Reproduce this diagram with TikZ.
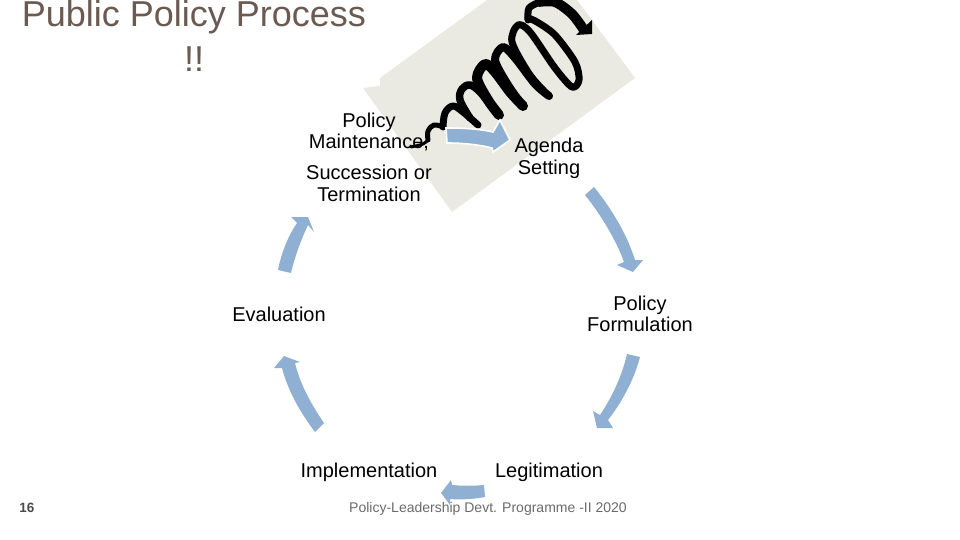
\documentclass[tikz,border=0pt]{standalone}
\usepackage{fontspec}
\setmainfont{Liberation Sans}
\definecolor{paper}{HTML}{EAEAE2}
\definecolor{flow}{HTML}{8FB0D2}
\definecolor{titlec}{HTML}{6B5A52}
\definecolor{footc}{HTML}{6A6A6A}
\tikzset{
 label/.style={font=\fontsize{20}{22}\selectfont,align=center,inner sep=0pt,text=black},
 flowarrow/.style={fill=flow,draw=none},
 coil/.style={draw=black,line cap=round,line join=round}
}
\begin{document}
\begin{tikzpicture}[x=1pt,y=-1pt]
\useasboundingbox (0,0) rectangle (960,540);
\begin{scope}
\clip (0,0) rectangle (960,540);
\fill[paper] (363,88) -- (380,86) -- (380,78) -- (487,0) -- (577,0) -- (635,78) -- (452,212) -- cycle;
% coil
\draw[coil,line width=3pt] plot[smooth,tension=0.6] coordinates {(411,147)(423,144)(428,140)};
\draw[coil,line width=5pt] plot[smooth,tension=0.6] coordinates {(428,140)(428,131)(434,125)(443,127)};
\draw[coil,line width=7pt] plot[smooth,tension=0.6] coordinates {(443,127)(445,113)(453,106)(463,112)(478,125)};
\draw[coil,line width=7.5pt] plot[smooth,tension=0.6] coordinates {(470,118)(460,100)(462,89)(470,85)(480,92)(491,106)(499,115)};
\draw[coil,line width=10pt] plot[smooth,tension=0.5] coordinates {(499,115)(488,100)(477,78)(485,64)(495,72)(510,92)(523,106)};
\draw[coil,line width=8pt] plot[smooth,tension=0.5] coordinates {(523,106)(508,85)(495,60)(503,47)(515,58)(535,84)(549,96)};
\draw[coil,line width=7pt] plot[smooth,tension=0.5] coordinates {(549,96)(530,75)(512,42)(518,25)(530,32)(555,68)(572,87)(579,80)(575,62)(555,35)(537,22)(528,18)};
\draw[coil,line width=7pt] plot[smooth,tension=0.5] coordinates {(528,20)(529,8)(540,2)};
\draw[coil,line width=10pt,line cap=butt] plot[smooth,tension=0.5] coordinates {(538,2)(555,2)(572,14)(584,30)};
\fill[black] (592,20) -- (576,35) -- (592,34) -- cycle;
\end{scope}
% blue arrows
\fill[flow,draw=white,line width=1.6pt,line join=miter] (446,128) .. controls (465,128) and (480,129) .. (493,132) -- (500,120) -- (510,140) -- (493,152) -- (492,148) .. controls (480,145) and (465,143) .. (447,143) -- cycle;
\fill[flowarrow] (594,187) .. controls (611,208) and (627,234) .. (635,260) -- (643,260) -- (633,272) -- (617,265) -- (624,262) .. controls (616,240) and (601,215) .. (585,195) -- cycle;
\fill[flowarrow] (640,357) .. controls (634,380) and (622,402) .. (608,420) -- (613,428) -- (597,428) -- (593,411) -- (600,415) .. controls (612,397) and (622,376) .. (627,354) -- cycle;
\fill[flowarrow] (484,485) .. controls (473,486) and (462,486) .. (452,485) -- (451,480) -- (441,493) -- (450,505) -- (450,499) .. controls (462,500) and (474,499) .. (485,497) -- cycle;
\fill[flowarrow] (324,423) .. controls (311,404) and (300,384) .. (295,363) -- (300,362) -- (284,356) -- (274,368) -- (282,368) .. controls (288,391) and (300,412) .. (315,432) -- cycle;
\fill[flowarrow] (278,270) .. controls (281,254) and (288,236) .. (297,223) -- (291,217) -- (308,217) -- (314,232) -- (308,225) .. controls (301,240) and (295,256) .. (291,273) -- cycle;
% texts
\node[font=\fontsize{36}{40}\selectfont,text=titlec,anchor=base,inner sep=0pt] (title) at (194,27) {Public Policy Process};
\node[font=\fontsize{36}{40}\selectfont,text=titlec,anchor=base,inner sep=0pt] (bang) at (194,72) {!!};
\node[label,anchor=base] (maint1) at (369,128) {Policy};
\node[label,anchor=base] (maint2) at (369,149) {Maintenance,};
\node[label,anchor=base] (maint3) at (369,179) {Succession or};
\node[label,anchor=base] (maint4) at (369,201) {Termination};
\node[label,anchor=base] (agenda1) at (549,153) {Agenda};
\node[label,anchor=base] (agenda2) at (549,175) {Setting};
\node[label,anchor=base] (form1) at (640,310) {Policy};
\node[label,anchor=base] (form2) at (640,331) {Formulation};
\node[label,anchor=base] (evalu) at (279,321) {Evaluation};
\node[label,anchor=base] (impl) at (369,477) {Implementation};
\node[label,anchor=base] (legit) at (549,477) {Legitimation};
\node[font=\fontsize{14}{17}\selectfont,text=footc,anchor=base,inner sep=0pt] (foot) at (488,512) {Policy-Leadership Devt. Programme -II 2020};
\node[font=\bfseries\fontsize{13.5}{16}\selectfont,text=footc!70!black,anchor=base,inner sep=0pt] (num) at (27,512) {16};
\end{tikzpicture}
\end{document}
